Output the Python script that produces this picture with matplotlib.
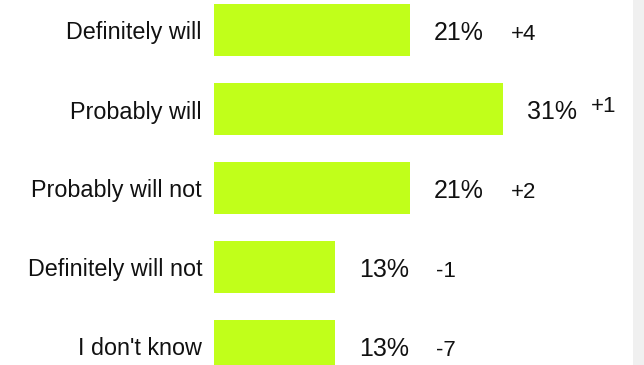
import matplotlib.pyplot as plt
from matplotlib.patches import Rectangle

# survey answers, share in percent and change vs previous wave
answers = ['Definitely will', 'Probably will', 'Probably will not',
           'Definitely will not', "I don't know"]
shares = [21, 31, 21, 13, 13]
changes = ['+4', '+1', '+2', '-1', '-7']

plt.rcParams['font.family'] = ['Liberation Sans Narrow', 'Liberation Sans', 'DejaVu Sans']

fig = plt.figure(figsize=(6.44, 3.65), dpi=100)
fig.patch.set_facecolor('white')
# light grey strip down the right edge
fig.patches.append(Rectangle((633 / 644, 0), 11 / 644, 1, transform=fig.transFigure,
                             facecolor='#f0f0f0', edgecolor='none', zorder=0))

ax = fig.add_axes([214 / 644, 0, 418 / 644, 1])
ax.set_facecolor('none')
ypos = list(range(len(answers)))
ax.barh(ypos, shares, height=0.646, color='#c1ff1a', edgecolor='none')
ax.set_xlim(0, 418 / 9.33)
ax.set_ylim(335 / 79, -30 / 79)
ax.axis('off')

txt = '#111111'
for i, (name, val, chg) in enumerate(zip(answers, shares, changes)):
    ax.annotate(name, (0, i), xytext=(-12, -3), textcoords='offset pixels',
                ha='right', va='center', fontsize=16.8, color=txt)
    ax.annotate(f'{val}%', (val, i), xytext=(24, -3), textcoords='offset pixels',
                ha='left', va='center', fontsize=18, color=txt)
    # the widest bar leaves little room, so its change sits closer and higher
    dx, dy = (88, 3) if val == max(shares) else (101, -5)
    ax.annotate(chg, (val, i), xytext=(dx, dy), textcoords='offset pixels',
                ha='left', va='center', fontsize=16, color=txt)

fig.savefig('out.png', dpi=100)
